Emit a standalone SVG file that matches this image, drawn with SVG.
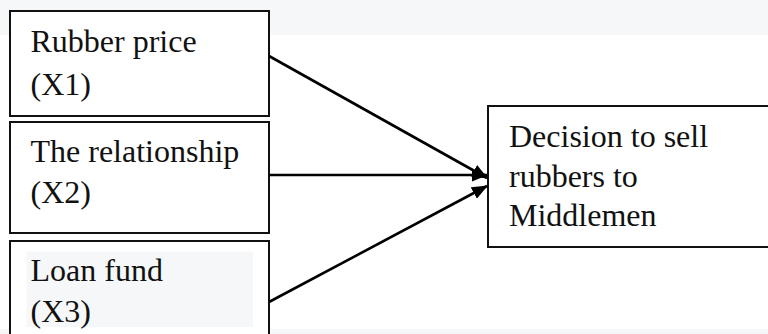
<svg xmlns="http://www.w3.org/2000/svg" width="768" height="334" viewBox="0 0 768 334">
<style>
.box{fill:#fff;stroke:#111;stroke-width:2}
.t{font-family:"Liberation Serif","Times New Roman",serif;font-size:32px;fill:#111}
.bg{fill:#f6f7f9}
.c{stroke:#000;stroke-width:2.6;fill:none}
</style>
<defs>
<marker id="ah" markerWidth="16" markerHeight="13" refX="15" refY="6.5" orient="auto" markerUnits="userSpaceOnUse">
<path d="M0,0 L16,6.5 L0,13 z" fill="#000"/>
</marker>
</defs>
<rect class="bg" x="0" y="0" width="768" height="35"/>
<rect class="bg" x="0" y="329" width="768" height="5"/>
<g id="node-x1">
<rect class="box" x="10" y="11" width="259" height="105"/>
<text class="t" x="30.5" y="52">Rubber price</text>
<text class="t" x="30.5" y="95">(X1)</text>
</g>
<g id="node-x2">
<rect class="box" x="10" y="122" width="259" height="111"/>
<text class="t" x="30.5" y="162">The relationship</text>
<text class="t" x="30.5" y="203">(X2)</text>
</g>
<g id="node-x3">
<rect class="box" x="10" y="241" width="259" height="110"/>
<rect class="bg" x="26.5" y="251.5" width="226.5" height="75.5"/>
<text class="t" x="30.5" y="281">Loan fund</text>
<text class="t" x="30.5" y="322">(X3)</text>
</g>
<g id="node-decision">
<rect class="box" x="488" y="106" width="300" height="141"/>
<text class="t" x="509" y="147">Decision to sell</text>
<text class="t" x="509" y="187">rubbers to</text>
<text class="t" x="509" y="226">Middlemen</text>
</g>
<g id="connectors">
<line class="c" x1="269" y1="56" x2="487" y2="178" marker-end="url(#ah)"/>
<line class="c" x1="269" y1="175" x2="487" y2="175" marker-end="url(#ah)"/>
<line class="c" x1="269" y1="302" x2="487" y2="186" marker-end="url(#ah)"/>
</g>
</svg>
